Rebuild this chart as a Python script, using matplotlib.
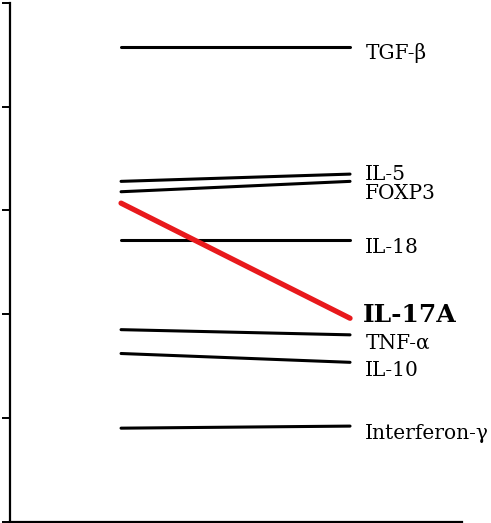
import numpy as np
import matplotlib
matplotlib.use('Agg')
import matplotlib.pyplot as plt

# two time points, one line per marker
markers = ['TGF-β', 'IL-5', 'FOXP3', 'IL-18', 'IL-17A', 'TNF-α', 'IL-10', 'Interferon-γ']
start_vals = [4.58, 3.28, 3.18, 2.71, 3.07, 1.85, 1.62, 0.90]
end_vals   = [4.58, 3.35, 3.28, 2.71, 1.96, 1.80, 1.535, 0.92]
highlight = 'IL-17A'

# vertical nudges for the labels (points), so they don't collide
label_dy = {'TGF-β': -5, 'IL-5': 0, 'FOXP3': -9, 'IL-18': -5,
            'IL-17A': 2, 'TNF-α': -6, 'IL-10': -6, 'Interferon-γ': -5.5}

fig = plt.figure(figsize=(4.91, 5.23), dpi=100)
ax = fig.add_axes([10/491, 1.5/523, 452/491, 518.5/523])

xs = [0, 1]
for name, a, b in zip(markers, start_vals, end_vals):
    if name == highlight:
        ax.plot(xs, [a, b], color='#e8191c', lw=3.8, solid_capstyle='round', zorder=3)
        ax.annotate(name, (1, b), xytext=(9, label_dy[name]), textcoords='offset points',
                    va='center', ha='left', fontsize=18, fontweight='bold',
                    family='DejaVu Serif')
    else:
        ax.plot(xs, [a, b], color='black', lw=2.2, solid_capstyle='round', zorder=2)
        ax.annotate(name, (1, b), xytext=(11, label_dy[name]), textcoords='offset points',
                    va='center', ha='left', fontsize=14.5, family='DejaVu Serif')

ax.set_xlim(-0.485, 1.489)
ax.set_ylim(0, 5)
ax.set_yticks(np.arange(0, 6))
ax.set_yticklabels([])
ax.set_xticks([])
ax.spines['top'].set_visible(False)
ax.spines['right'].set_visible(False)
for s in ['left', 'bottom']:
    ax.spines[s].set_linewidth(1.6)
ax.tick_params(axis='y', direction='out', length=6, width=1.4)

fig.savefig('out.png', dpi=100)
